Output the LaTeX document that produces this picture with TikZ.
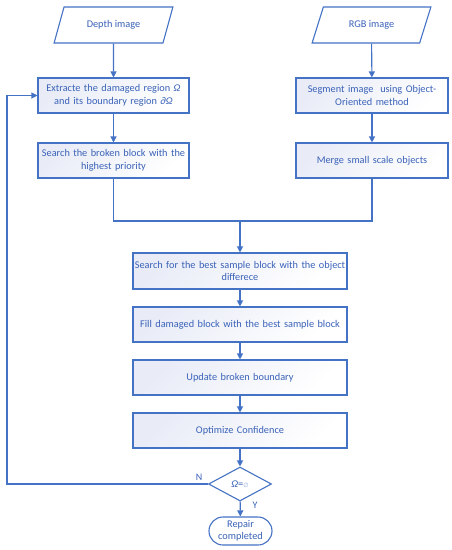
\documentclass[tikz,border=0pt]{standalone}
\usepackage{fontspec}
\setmainfont{Carlito}
\newfontfamily\symfont{DejaVu Sans}
\usetikzlibrary{shapes.geometric,arrows.meta}
\definecolor{lineblue}{HTML}{4472C4}
\definecolor{textblue}{HTML}{3A62B8}
\definecolor{fillblue}{HTML}{E9ECF7}
\tikzset{
  box/.style={draw=lineblue, line width=1.1pt, left color=fillblue, right color=white, shading angle=45,
    minimum height=35pt, inner sep=1pt, align=center, text=textblue, font=\fontsize{10.3}{12.5}\selectfont},
  para/.style={box, shape=trapezium, trapezium left angle=63, trapezium right angle=117,
    trapezium stretches=true, minimum width=119pt, minimum height=36pt, left color=white, right color=white},
  flow/.style={draw=lineblue, line width=1.1pt, -{Triangle[width=6pt,length=6pt]}},
  link/.style={draw=lineblue, line width=1.1pt},
  lbl/.style={text=textblue, font=\fontsize{10}{11}\selectfont}
}
\begin{document}
\begin{tikzpicture}[x=1pt,y=-1pt]
\useasboundingbox (0,0) rectangle (452,550);
\node[para] (depth) at (113.5,25) {Depth image};
\node[para] (rgb) at (371.5,25) {RGB image};
\node[box, text width=149pt, minimum width=151pt] (extr) at (113.5,95.5) {Extracte the damaged region {\itshape Ω}\\ and its boundary region {\itshape ∂Ω}};
\node[box, text width=149pt, minimum width=151pt] (broken) at (113.5,160.5) {Search the broken block with the\\ highest priority};
\node[box, text width=150pt, minimum width=152pt] (seg) at (372,95.5) {Segment image\ \ using Object-\\Oriented method};
\node[box, text width=150pt, minimum width=152pt] (merge) at (372,160.5) {Merge small scale objects};
\coordinate (jl) at (113.5,221);
\coordinate (jr) at (372,221);
\coordinate (jm) at (240,221);
\node[box, text width=212pt, minimum width=214pt, minimum height=36pt] (sample) at (240,271) {Search for the best sample block with the object\\ differece};
\node[box, text width=212pt, minimum width=214pt] (fill) at (240,324.5) {Fill damaged block with the best sample block};
\node[box, text width=212pt, minimum width=214pt] (update) at (240,377.5) {Update broken boundary};
\node[box, text width=212pt, minimum width=214pt] (opt) at (240,430.5) {Optimize Confidence};
\node[box, shape=diamond, aspect=1.85, minimum width=63pt, minimum height=34pt, inner sep=0pt, left color=white, right color=white] (dec) at (240,484) {{\itshape Ω}={\symfont\fontsize{6}{6}\selectfont\color{lineblue!60}∅}};
\node[box, rounded corners=14pt, minimum width=63pt, minimum height=28pt, text width=60pt, left color=white, right color=white, font=\fontsize{10.3}{12}\selectfont] (end) at (240.5,531) {Repair\\ completed};
\coordinate (lb) at (7,484);
\coordinate (lt) at (7,95.5);
\node[lbl] (nl) at (199,477) {N};
\node[lbl] (yl) at (255,505) {Y};
\draw[flow] (depth) -- (extr);
\draw[flow] (extr) -- (broken);
\draw[flow] (rgb) -- (seg);
\draw[flow] (seg) -- (merge);
\draw[link] (broken) -- (jl) -- (jr) -- (merge);
\draw[flow] (jm) -- (sample);
\draw[flow] (sample) -- (fill);
\draw[flow] (fill) -- (update);
\draw[flow] (update) -- (opt);
\draw[flow] (opt) -- (dec);
\draw[flow] (dec) -- (end);
\draw[flow] (dec.west) -- (lb) -- (lt) -- (extr.west);
\end{tikzpicture}
\end{document}
